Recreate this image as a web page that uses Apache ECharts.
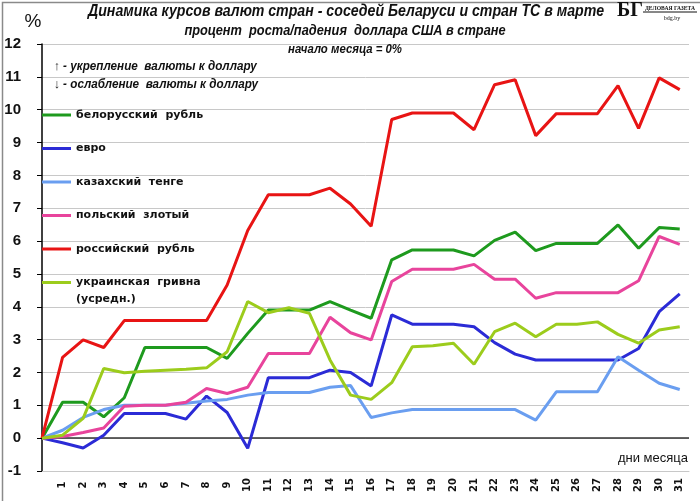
<!DOCTYPE html>
<html>
<head>
<meta charset="utf-8">
<script src="https://cdn.jsdelivr.net/npm/echarts@6/dist/echarts.min.js"></script>
<style>html,body{margin:0;padding:0;background:#fff}#c{width:700px;height:501px}</style>
</head>
<body>
<div id="c"></div>
<script>
const days = ['1','2','3','4','5','6','7','8','9','10','11','12','13','14','15','16','17','18','19','20','21','22','23','24','25','26','27','28','29','30','31'];
const seriesNames = ['белорусский  рубль','евро','казахский  тенге','польский  злотый','российский  рубль','украинская  гривна'];
const belRub = [0, 1.09, 1.09, 0.65, 1.23, 2.76, 2.76, 2.76, 2.76, 2.43, 3.19, 3.90, 3.90, 3.90, 4.16, 3.90, 3.65, 5.43, 5.73, 5.73, 5.73, 5.55, 6.02, 6.27, 5.71, 5.93, 5.93, 5.93, 6.49, 5.78, 6.41, 6.37];
const euro = [0, -0.14, -0.30, 0.09, 0.75, 0.75, 0.75, 0.58, 1.28, 0.78, -0.31, 1.84, 1.84, 1.84, 2.07, 2.00, 1.59, 3.75, 3.47, 3.47, 3.47, 3.39, 2.91, 2.56, 2.38, 2.38, 2.38, 2.38, 2.38, 2.73, 3.85, 4.39];
const tenge = [0, 0.24, 0.63, 0.87, 1.00, 1.00, 1.00, 1.06, 1.13, 1.18, 1.31, 1.39, 1.39, 1.39, 1.55, 1.60, 0.63, 0.77, 0.87, 0.87, 0.87, 0.87, 0.87, 0.87, 0.55, 1.41, 1.41, 1.41, 2.48, 2.07, 1.67, 1.48];
const zloty = [0, 0.05, 0.17, 0.31, 0.97, 1.00, 1.00, 1.09, 1.51, 1.36, 1.55, 2.58, 2.58, 2.58, 3.68, 3.21, 2.99, 4.77, 5.14, 5.14, 5.14, 5.29, 4.84, 4.84, 4.26, 4.43, 4.43, 4.43, 4.43, 4.79, 6.14, 5.90];
const rusRub = [0, 2.46, 2.99, 2.76, 3.58, 3.58, 3.58, 3.58, 3.58, 4.66, 6.32, 7.41, 7.41, 7.41, 7.61, 7.13, 6.45, 9.70, 9.90, 9.90, 9.90, 9.39, 10.76, 10.91, 9.21, 9.88, 9.88, 9.88, 10.73, 9.43, 10.97, 10.61];
const uah = [0, 0.09, 0.60, 2.12, 1.99, 2.04, 2.07, 2.10, 2.14, 2.63, 4.16, 3.82, 3.97, 3.80, 2.38, 1.31, 1.18, 1.69, 2.78, 2.81, 2.89, 2.25, 3.24, 3.50, 3.09, 3.47, 3.47, 3.54, 3.16, 2.89, 3.29, 3.39];
const yTicks = {min: -1, max: 12, interval: 1};

const colors = ['#1e9a1e', '#2b2bd6', '#6a9ef0', '#e8449c', '#e81414', '#9ccc1c'];
const allData = [belRub, euro, tenge, zloty, rusRub, uah];

const chart = echarts.init(document.getElementById('c'), null, {renderer: 'canvas'});

const series = allData.map((arr, i) => {
  const s = {
    name: seriesNames[i],
    type: 'line',
    data: arr.map((v, k) => [k, v]),
    showSymbol: false,
    symbol: 'none',
    lineStyle: {width: 3, color: colors[i]},
    itemStyle: {color: colors[i]},
    z: 3 + i
  };
  if (i === 0) {
    s.markLine = {
      silent: true,
      symbol: ['none', 'none'],
      label: {show: false},
      lineStyle: {color: '#333', width: 1.5, type: 'solid'},
      data: [{yAxis: 0}],
      z: 2
    };
  }
  return s;
});

const font = 'Liberation Sans, Arial, sans-serif';

chart.setOption({
  animation: false,
  backgroundColor: '#fff',
  color: colors,
  grid: {left: 42, right: 11, top: 44, bottom: 30, containLabel: false},
  legend: {
    orient: 'vertical',
    left: 42,
    top: 108,
    padding: 0,
    itemWidth: 29,
    itemHeight: 3,
    itemGap: 19.5,
    icon: 'rect',
    data: seriesNames,
    textStyle: {fontFamily: 'DejaVu Sans, sans-serif', fontWeight: 'bold', fontSize: 11, color: '#111', lineHeight: 14}
  },
  xAxis: {
    type: 'value',
    min: 0,
    max: 31.45,
    interval: 1,
    axisLine: {onZero: false, show: true, lineStyle: {color: '#c8c8c8', width: 1}},
    axisTick: {show: false},
    splitLine: {show: false},
    axisLabel: {
      rotate: 90,
      align: 'center',
      verticalAlign: 'middle',
      margin: 14,
      fontFamily: 'DejaVu Sans, sans-serif',
      fontWeight: 'bold',
      fontSize: 10,
      color: '#111',
      showMinLabel: true,
      showMaxLabel: true,
      formatter: function (v) {
        if (Math.abs(v - Math.round(v)) > 1e-6) return '';
        const k = Math.round(v);
        return (k >= 1 && k <= days.length) ? days[k - 1] : '';
      }
    }
  },
  yAxis: {
    type: 'value',
    min: yTicks.min,
    max: yTicks.max,
    interval: yTicks.interval,
    axisLine: {show: true, lineStyle: {color: '#000', width: 1.5}},
    axisTick: {show: true, inside: false, length: 5, lineStyle: {color: '#000'}},
    splitLine: {show: true, lineStyle: {color: '#c8c8c8', width: 1}},
    axisLabel: {fontFamily: 'Liberation Sans, Arial, sans-serif', fontWeight: 'bold', fontSize: 15, color: '#111', margin: 21}
  },
  series: series,
  graphic: [
    {type: 'rect', left: 0, top: 0, z: 100, shape: {x: 0.75, y: 0.75, width: 698.5, height: 499.5}, style: {fill: 'none', stroke: '#8a8a8a', lineWidth: 1.5}, silent: true},
    {type: 'text', x: 346, y: 12, scaleX: 0.885, z: 100, style: {text: 'Динамика курсов валют стран - соседей Беларуси и стран ТС в марте', fontFamily: font, fontStyle: 'italic', fontWeight: 'bold', fontSize: 16, fill: '#111', align: 'center', verticalAlign: 'middle'}},
    {type: 'text', x: 345, y: 31, scaleX: 0.915, z: 100, style: {text: 'процент  роста/падения  доллара США в стране', fontFamily: font, fontStyle: 'italic', fontWeight: 'bold', fontSize: 14, fill: '#111', align: 'center', verticalAlign: 'middle'}},
    {type: 'text', x: 345, y: 50, scaleX: 0.95, z: 100, style: {text: 'начало месяца = 0%', fontFamily: font, fontStyle: 'italic', fontWeight: 'bold', fontSize: 12, fill: '#111', align: 'center', verticalAlign: 'middle'}},
    {type: 'text', x: 33, y: 22, z: 100, style: {text: '%', fontFamily: 'Liberation Sans, Arial, sans-serif', fontSize: 19, fill: '#111', align: 'center', verticalAlign: 'middle'}},
    {type: 'text', x: 54, y: 66, scaleX: 0.9, z: 100, style: {text: '↑ - укрепление  валюты к доллару', fontFamily: font, fontStyle: 'italic', fontWeight: 'bold', fontSize: 13, fill: '#111', align: 'left', verticalAlign: 'middle'}},
    {type: 'text', x: 54, y: 84, scaleX: 0.9, z: 100, style: {text: '↓ - ослабление  валюты к доллару', fontFamily: font, fontStyle: 'italic', fontWeight: 'bold', fontSize: 13, fill: '#111', align: 'left', verticalAlign: 'middle'}},
    {type: 'text', x: 76, y: 299, z: 100, style: {text: '(усредн.)', fontFamily: 'DejaVu Sans, sans-serif', fontWeight: 'bold', fontSize: 11, fill: '#111', align: 'left', verticalAlign: 'middle'}},
    {type: 'text', x: 688, y: 458, z: 100, style: {text: 'дни месяца', fontFamily: 'Liberation Sans, Arial, sans-serif', fontSize: 13, fill: '#111', align: 'right', verticalAlign: 'middle'}},
    {type: 'text', x: 630, y: 11, z: 100, style: {text: 'БГ', fontFamily: 'Liberation Serif, serif', fontWeight: 'bold', fontSize: 20, fill: '#111', align: 'center', verticalAlign: 'middle'}},
    {type: 'text', x: 670, y: 8, scaleX: 0.8, z: 100, style: {text: 'ДЕЛОВАЯ ГАЗЕТА', fontFamily: 'Liberation Serif, serif', fontWeight: 'bold', fontSize: 7, fill: '#111', align: 'center', verticalAlign: 'middle'}},
    {type: 'line', z: 100, shape: {x1: 643, y1: 12, x2: 697, y2: 12}, style: {stroke: '#111', lineWidth: 1}},
    {type: 'text', x: 672, y: 18, z: 100, style: {text: 'bdg.by', fontFamily: 'Liberation Serif, serif', fontSize: 6, fill: '#111', align: 'center', verticalAlign: 'middle'}}
  ]
});
</script>
</body>
</html>
